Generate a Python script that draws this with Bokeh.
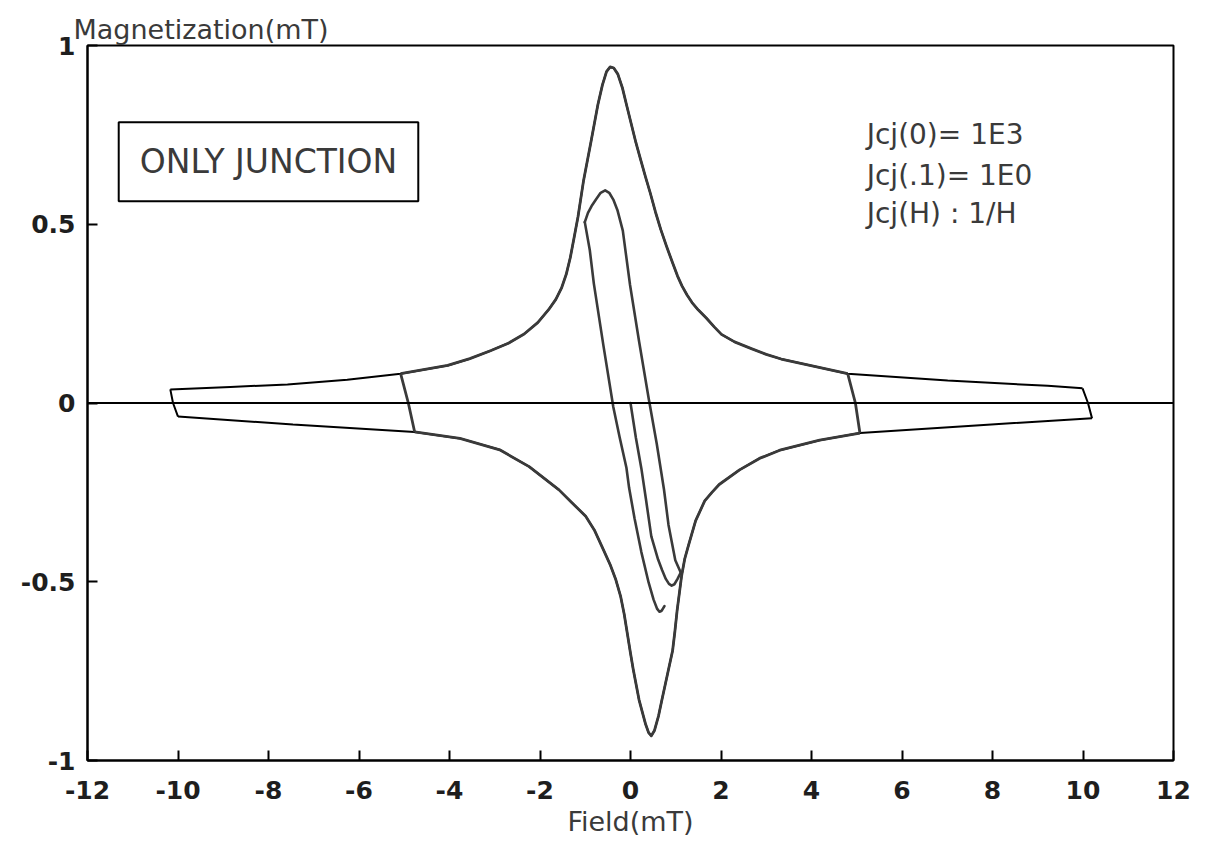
from bokeh.plotting import figure
from bokeh.models import Label, BoxAnnotation, FixedTicker, Range1d, Span
from bokeh.embed import file_html
from bokeh.resources import INLINE

# ---------------- data ----------------
x_ticks = [-12, -10, -8, -6, -4, -2, 0, 2, 4, 6, 8, 10, 12]
x_tick_labels = ["-12", "-10", "-8", "-6", "-4", "-2", "0", "2", "4", "6", "8", "10", "12"]
y_ticks = [-1, -0.5, 0, 0.5, 1]
y_tick_labels = ["-1", "-0.5", "0", "0.5", "1"]

# major loop, descending branch (+10 -> -10)
h_desc = [9.99, 9.22, 7.01, 4.80, 3.33, 3.0, 2.67, 2.3, 2.01, 1.85, 1.68, 1.5, 1.36, 1.25,
          1.14, 1.04, 0.93, 0.80, 0.67, 0.55, 0.44, 0.33, 0.23, 0.12, 0.02, -0.08, -0.18,
          -0.28, -0.37, -0.45, -0.53, -0.62, -0.72, -0.87, -1.04, -1.16, -1.25, -1.33,
          -1.42, -1.52, -1.65, -1.81, -2.05, -2.35, -2.7, -3.08, -3.55, -4.04, -5.08,
          -6.26, -7.58, -8.84, -10.17]
m_desc = [0.041, 0.048, 0.063, 0.082, 0.123, 0.136, 0.152, 0.171, 0.192, 0.213, 0.237,
          0.260, 0.281, 0.302, 0.327, 0.355, 0.392, 0.437, 0.485, 0.535, 0.586, 0.633,
          0.678, 0.728, 0.779, 0.830, 0.882, 0.920, 0.937, 0.940, 0.927, 0.890, 0.835,
          0.733, 0.620, 0.521, 0.460, 0.407, 0.360, 0.323, 0.290, 0.261, 0.225, 0.193,
          0.167, 0.147, 0.124, 0.105, 0.082, 0.065, 0.052, 0.045, 0.038]

# major loop, ascending branch (-10 -> +10)
h_asc = [-10.0, -7.46, -4.77, -3.77, -2.89, -2.24, -1.58, -1.3, -0.99, -0.8, -0.60,
         -0.45, -0.33, -0.22, -0.14, -0.07, 0.0, 0.06, 0.19, 0.33, 0.40, 0.46, 0.53,
         0.62, 0.69, 0.81, 0.93, 0.98, 1.03, 1.13, 1.2, 1.28, 1.44, 1.64, 1.8, 1.96,
         2.41, 2.85, 3.30, 4.18, 5.07, 7.72, 10.2]
m_asc = [-0.038, -0.060, -0.081, -0.099, -0.131, -0.178, -0.243, -0.278, -0.317, -0.355,
         -0.41, -0.452, -0.492, -0.54, -0.59, -0.645, -0.70, -0.745, -0.831, -0.897,
         -0.922, -0.931, -0.916, -0.875, -0.833, -0.763, -0.693, -0.64, -0.581, -0.483,
         -0.435, -0.399, -0.329, -0.274, -0.25, -0.228, -0.187, -0.155, -0.132, -0.104,
         -0.084, -0.062, -0.043]

# reversal segments of the +-10 loop
h_rev10_left = [-10.17, -10.11, -10.0]
m_rev10_left = [0.038, 0.0, -0.038]
h_rev10_right = [10.2, 10.11, 9.99]
m_rev10_right = [-0.043, 0.0, 0.041]

# reversal segments of the +-5 loop
h_rev5_left = [-5.08, -4.91, -4.77]
m_rev5_left = [0.082, 0.0, -0.081]
h_rev5_right = [5.07, 4.97, 4.80]
m_rev5_right = [-0.084, 0.0, 0.082]

# virgin curve
h_virgin = [0.0, 0.12, 0.24, 0.34, 0.46, 0.61, 0.70, 0.78, 0.85, 0.91, 0.97, 1.04, 1.11]
m_virgin = [0.0, -0.098, -0.183, -0.268, -0.373, -0.438, -0.468, -0.492, -0.506, -0.511,
            -0.507, -0.492, -0.474]

# inner minor loop, descending part
h_inner_desc = [1.11, 0.99, 0.84, 0.74, 0.58, 0.40, 0.19, -0.01, -0.17, -0.29, -0.38,
                -0.47, -0.56, -0.66, -0.76, -0.86, -0.94, -1.01]
m_inner_desc = [-0.474, -0.44, -0.341, -0.242, -0.114, 0.014, 0.172, 0.33, 0.482, 0.540,
                0.569, 0.588, 0.595, 0.588, 0.570, 0.551, 0.532, 0.506]

# inner minor loop, ascending part
h_inner_asc = [-1.01, -0.90, -0.81, -0.60, -0.38, -0.24, -0.09, -0.03, 0.09, 0.24, 0.40,
               0.51, 0.59, 0.64, 0.69, 0.75]
m_inner_asc = [0.506, 0.428, 0.334, 0.162, -0.011, -0.096, -0.181, -0.238, -0.323, -0.417,
               -0.502, -0.55, -0.576, -0.584, -0.581, -0.568]

FONT = "DejaVu Sans"
TXT = "#3a3a3a"
CURVE = "#3a3a3a"

# ---------------- figure ----------------
p = figure(width=1207, height=854, x_range=Range1d(-12, 12), y_range=Range1d(-1, 1),
           output_backend="svg", toolbar_location=None,
           title="Magnetization(mT)",
           min_border_left=87, min_border_right=34, min_border_top=45, min_border_bottom=94)
p.background_fill_color = "white"
p.border_fill_color = "white"
p.outline_line_color = "black"
p.outline_line_width = 2
p.grid.visible = False

p.title.text_font = FONT
p.title.text_font_style = "normal"
p.title.text_font_size = "27px"
p.title.text_color = TXT
p.title.align = "left"
p.title.offset = -14
p.title.standoff = 2

p.xaxis.ticker = FixedTicker(ticks=x_ticks)
p.xaxis.major_label_overrides = {t: s for t, s in zip(x_ticks, x_tick_labels)}
p.yaxis.ticker = FixedTicker(ticks=y_ticks)
p.yaxis.major_label_overrides = {t: s for t, s in zip(y_ticks, y_tick_labels)}

for ax in (p.xaxis, p.yaxis):
    ax.axis_line_color = "black"
    ax.axis_line_width = 2
    ax.major_tick_in = 10
    ax.major_tick_out = 0
    ax.major_tick_line_width = 2
    ax.minor_tick_line_color = None
    ax.major_label_text_font = FONT
    ax.major_label_text_font_style = "bold"
    ax.major_label_text_font_size = "25px"
    ax.major_label_text_color = "#1e1e1e"
p.xaxis.major_label_standoff = 20
p.yaxis.major_label_standoff = 12

p.xaxis.axis_label = "Field(mT)"
p.xaxis.axis_label_text_font = FONT
p.xaxis.axis_label_text_font_style = "normal"
p.xaxis.axis_label_text_font_size = "27px"
p.xaxis.axis_label_text_color = TXT
p.xaxis.axis_label_standoff = 4

# zero line
p.add_layout(Span(location=0, dimension="width", line_color="black", line_width=2))

# +-10 loop (thin black)
for hx, my in [(h_desc, m_desc), (h_asc, m_asc), (h_rev10_left, m_rev10_left),
               (h_rev10_right, m_rev10_right)]:
    p.line(hx, my, line_color="black", line_width=2)

# +-5 loop (central part, drawn over)
h5u = [h for h in h_desc if abs(h) <= 5.1]
m5u = [m for h, m in zip(h_desc, m_desc) if abs(h) <= 5.1]
h5l = [h for h in h_asc if abs(h) <= 5.1]
m5l = [m for h, m in zip(h_asc, m_asc) if abs(h) <= 5.1]
for hx, my in [(h5u, m5u), (h5l, m5l), (h_rev5_left, m_rev5_left),
               (h_rev5_right, m_rev5_right)]:
    p.line(hx, my, line_color=CURVE, line_width=2.8, line_join="round")

# inner curves
for hx, my in [(h_virgin, m_virgin), (h_inner_desc, m_inner_desc),
               (h_inner_asc, m_inner_asc)]:
    p.line(hx, my, line_color=CURVE, line_width=2.6, line_join="round", line_cap="round")

# annotations
p.add_layout(BoxAnnotation(left=-11.31, right=-4.69, bottom=0.564, top=0.785,
                           fill_color=None, fill_alpha=0, line_color="black",
                           line_alpha=1.0, line_width=2))
p.add_layout(Label(x=-8.0, y=0.675, text="ONLY JUNCTION", text_font=FONT,
                   text_font_size="33px", text_color=TXT, text_align="center",
                   text_baseline="middle"))
for yy, s in [(0.751, "Jcj(0)= 1E3"), (0.636, "Jcj(.1)= 1E0"), (0.53, "Jcj(H) : 1/H")]:
    p.add_layout(Label(x=5.22, y=yy, text=s, text_font=FONT, text_font_size="28px",
                       text_color=TXT, text_align="left", text_baseline="middle"))

open("out.html", "w").write(file_html(p, INLINE))
